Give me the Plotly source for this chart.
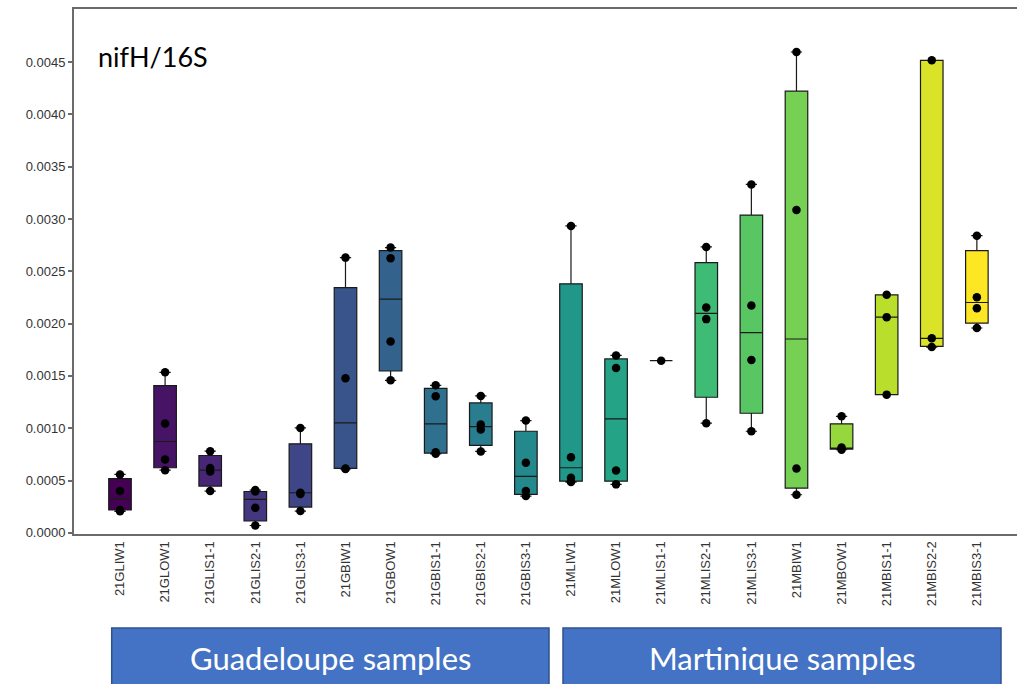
import plotly.graph_objects as go
from plotly.colors import sample_colorscale

categories = ["21GLIW1", "21GLOW1", "21GLIS1-1", "21GLIS2-1", "21GLIS3-1",
              "21GBIW1", "21GBOW1", "21GBIS1-1", "21GBIS2-1", "21GBIS3-1",
              "21MLIW1", "21MLOW1", "21MLIS1-1", "21MLIS2-1", "21MLIS3-1",
              "21MBIW1", "21MBOW1", "21MBIS1-1", "21MBIS2-2", "21MBIS3-1"]

lower_fence = [0.000205, 0.000599, 0.000399, 0.000070, 0.000208,
               0.000610, 0.001458, 0.000755, 0.000778, 0.000351,
               0.000485, 0.000463, 0.001646, 0.001048, 0.000971,
               0.000364, 0.000795, 0.001321, 0.001776, 0.001958]
q1 = [0.000218, 0.000622, 0.000447, 0.000113, 0.000246,
      0.000615, 0.001547, 0.000761, 0.000835, 0.000367,
      0.000494, 0.000494, 0.001646, 0.001296, 0.001143,
      0.000428, 0.000800, 0.001321, 0.001782, 0.002005]
median = [0.000320, 0.000873, 0.000599, 0.000320, 0.000383,
          0.001051, 0.002234, 0.001042, 0.001016, 0.000539,
          0.000622, 0.001089, 0.001646, 0.002097, 0.001913,
          0.001853, 0.000806, 0.002062, 0.001859, 0.002202]
q3 = [0.000517, 0.001407, 0.000739, 0.000395, 0.000851,
      0.002345, 0.002698, 0.001381, 0.001242, 0.000971,
      0.002380, 0.001662, 0.001646, 0.002584, 0.003038,
      0.004222, 0.001042, 0.002275, 0.004517, 0.002698]
upper_fence = [0.000558, 0.001534, 0.000780, 0.000408, 0.001003,
               0.002631, 0.002727, 0.001410, 0.001309, 0.001073,
               0.002934, 0.001696, 0.001646, 0.002733, 0.003331,
               0.004597, 0.001114, 0.002275, 0.004517, 0.002841]

points = [
    [0.000558, 0.000399, 0.000218, 0.000205],
    [0.001534, 0.001045, 0.000701, 0.000599],
    [0.000780, 0.000620, 0.000585, 0.000399],
    [0.000408, 0.000395, 0.000240, 0.000070],
    [0.001003, 0.000383, 0.000370, 0.000208],
    [0.002631, 0.001477, 0.000615, 0.000610],
    [0.002727, 0.002625, 0.001830, 0.001458],
    [0.001410, 0.001305, 0.000770, 0.000755],
    [0.001309, 0.001035, 0.000987, 0.000778],
    [0.001073, 0.000670, 0.000399, 0.000351],
    [0.002934, 0.000723, 0.000527, 0.000485],
    [0.001696, 0.001576, 0.000596, 0.000463],
    [0.001646],
    [0.002733, 0.002154, 0.002043, 0.001048],
    [0.003331, 0.002173, 0.001652, 0.000971],
    [0.004597, 0.003086, 0.000615, 0.000364],
    [0.001114, 0.000815, 0.000795],
    [0.002275, 0.002062, 0.001321],
    [0.004517, 0.001860, 0.001776],
    [0.002841, 0.002253, 0.002148, 0.001958],
]

y_ticks = [0.0, 0.0005, 0.0010, 0.0015, 0.0020, 0.0025, 0.0030, 0.0035, 0.0040, 0.0045]
group_labels = ["Guadeloupe samples", "Martinique samples"]
title_text = "nifH/16S"

colors = sample_colorscale("Viridis", [i / (len(categories) - 1) for i in range(len(categories))])

fig = go.Figure()
for i, cat in enumerate(categories):
    fig.add_trace(go.Box(
        x=[cat], q1=[q1[i]], median=[median[i]], q3=[q3[i]],
        lowerfence=[lower_fence[i]], upperfence=[upper_fence[i]],
        fillcolor=colors[i], line=dict(color="#1a1a1a", width=1.2),
        width=0.5, boxpoints=False, showlegend=False, hoverinfo="skip",
    ))

px_x, px_y = [], []
for cat, pts in zip(categories, points):
    px_x += [cat] * len(pts)
    px_y += pts
fig.add_trace(go.Scatter(x=px_x, y=px_y, mode="markers",
                         marker=dict(color="black", size=8.5),
                         showlegend=False, hoverinfo="skip"))

axis_col = "#6b6b6b"
tick_font = dict(family="Liberation Sans, Arial", size=13, color="#333333")
fig.update_xaxes(type="category", categoryorder="array", categoryarray=categories,
                 range=[-1.02, 19.89], showline=True, linecolor=axis_col, linewidth=2,
                 mirror=True, showgrid=False, zeroline=False, ticks="",
                 tickangle=-90, tickfont=tick_font)
fig.update_yaxes(range=[-0.0000115, 0.005008], tickvals=y_ticks,
                 ticktext=[f"{v:.4f}" for v in y_ticks],
                 showline=True, linecolor=axis_col, linewidth=2, showgrid=False,
                 zeroline=False, ticks="outside", ticklen=4, tickcolor=axis_col, tickwidth=1.5,
                 tickfont=tick_font)

shapes = []
annotations = []
box_px = [(111.7, 549.0), (563.0, 1001.0)]
L, W = 74.0, 943.0
for (x0, x1), lab in zip(box_px, group_labels):
    shapes.append(dict(type="rect", xref="paper", yref="paper",
                       x0=(x0 - L) / W, x1=(x1 - L) / W, y0=-0.32, y1=-0.179,
                       fillcolor="#4472C4", line=dict(color="#2F528F", width=1.5), layer="above"))
    annotations.append(dict(text=lab, xref="paper", yref="paper",
                            x=((x0 + x1) / 2 - L) / W, y=-0.236, xanchor="center", yanchor="middle",
                            showarrow=False, font=dict(family="Lato", size=31, color="white")))
annotations.append(dict(text=title_text, xref="paper", yref="paper", x=(96 - L) / W, y=0.9086,
                        xanchor="left", yanchor="middle", showarrow=False,
                        font=dict(family="Lato", size=27, color="black")))

fig.update_layout(width=1017, height=684, margin=dict(l=74, r=0, t=9, b=150),
                  paper_bgcolor="white", plot_bgcolor="white", boxmode="overlay",
                  shapes=shapes, annotations=annotations)

fig.write_html("out.html")
